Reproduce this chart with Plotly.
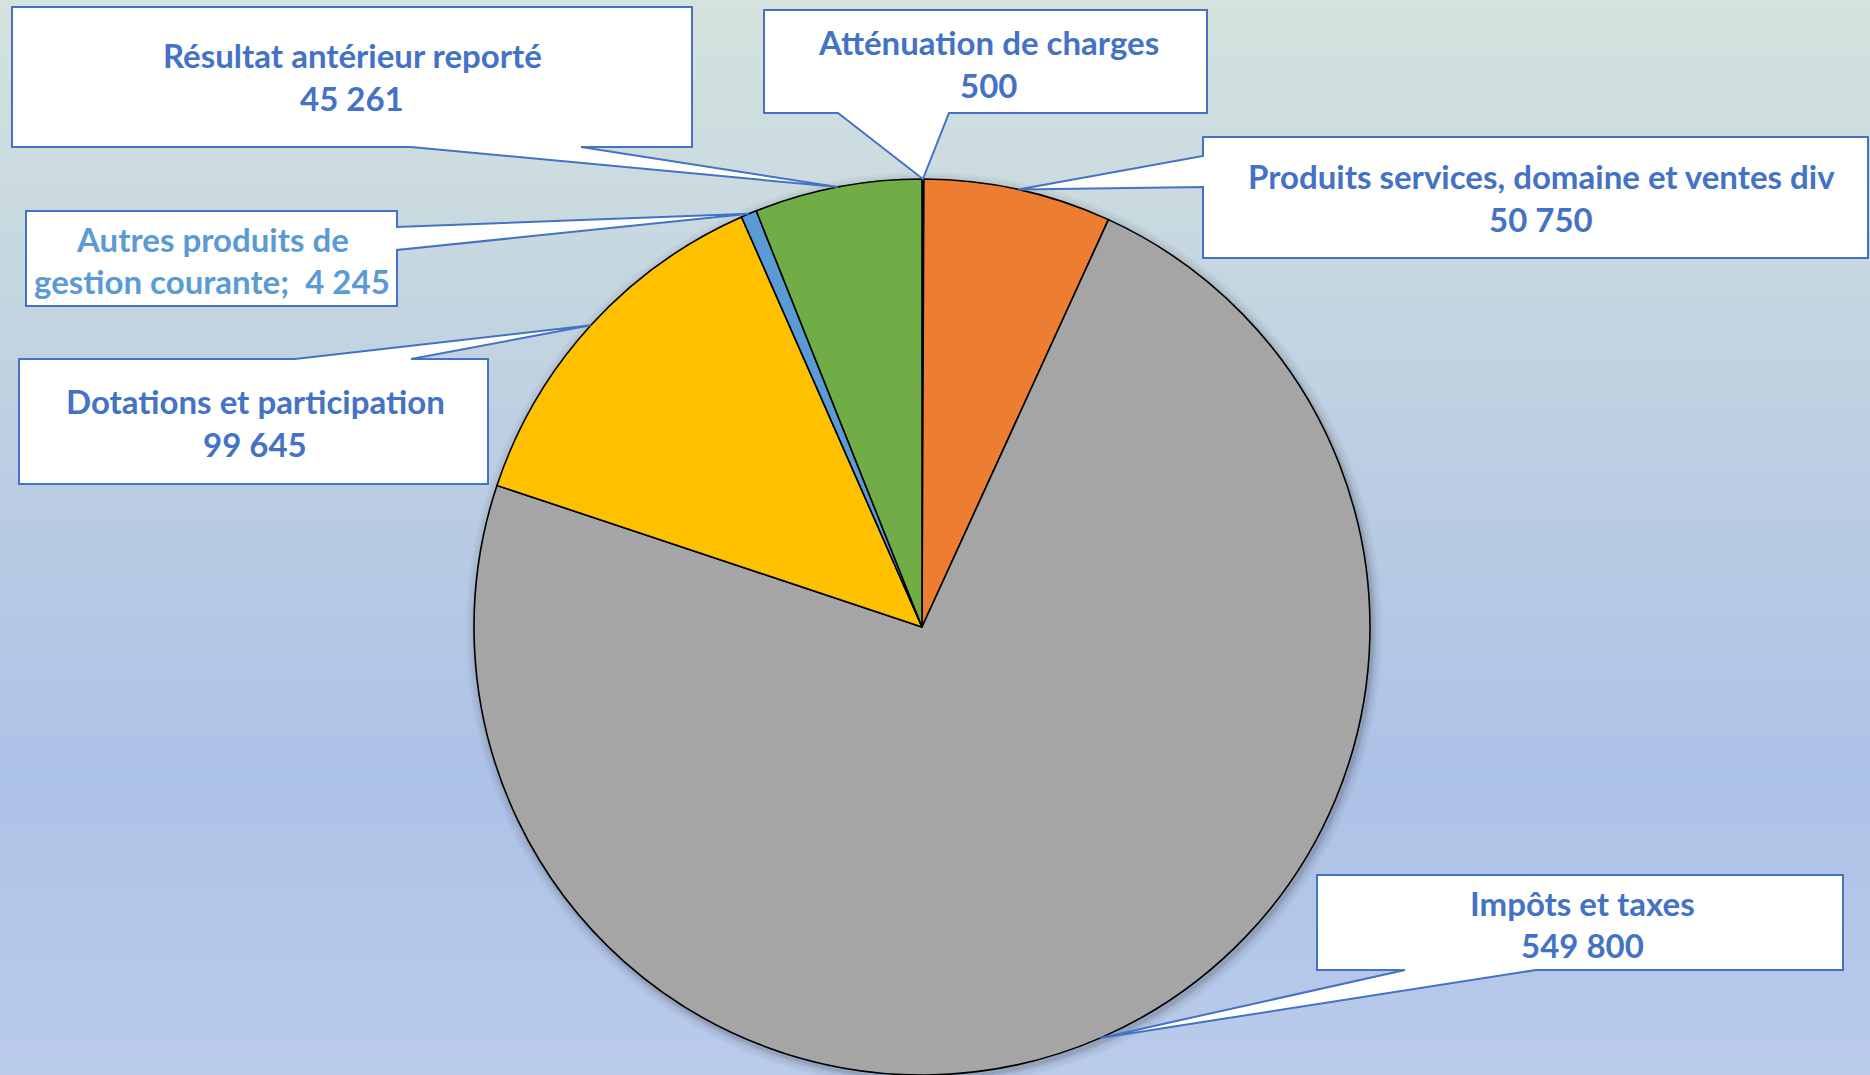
import math
import plotly.graph_objects as go

# ---------------- data ----------------
categories = ["Atténuation de charges",
              "Produits services, domaine et ventes div",
              "Impôts et taxes",
              "Dotations et participation",
              "Autres produits de gestion courante",
              "Résultat antérieur reporté"]
values = [500, 50750, 549800, 99645, 4245, 45261]
slice_colors = ["#4472C4", "#ED7D31", "#A5A5A5", "#FFC000", "#5B9BD5", "#70AD47"]

# label text lines (first line is label; value appended from values)
label_lines = [["Atténuation de charges", "{v}"],
               ["Produits services, domaine et ventes div", "{v}"],
               ["Impôts et taxes", "{v}"],
               ["Dotations et participation", "{v}"],
               ["Autres produits de", "gestion courante;  {v}"],
               ["Résultat antérieur reporté", "{v}"]]
label_colors = ["#4472C4", "#4472C4", "#4472C4", "#4472C4", "#5B9BD5", "#4472C4"]

# ---------------- layout (pixels) ----------------
W, H = 1870, 1075
CX, CY, R = 922, 627, 448

# callout boxes: (left, top, right, bottom), pointer side, pointer base (a, b), text cx, line ys
callouts = [
    ((764, 10, 1207, 113), "bottom", (838, 949), 988, (42, 85)),
    ((1203, 137, 1868, 258), "left", (156, 187), 1541, (176, 219)),
    ((1317, 875, 1843, 970), "bottom", (1405, 1536), 1582, (903, 945)),
    ((19, 359, 488, 484), "top", (295, 411), 255, (401, 444)),
    ((26, 211, 397, 306), "right", (227, 250), 212, (239, 281)),
    ((12, 7, 692, 147), "bottom", (411, 581), 352, (55, 98)),
]


def fmt(v):
    return f"{v:,}".replace(",", " ")


total = sum(values)
tips = []
cum = 0
for v in values:
    mid = (cum + v / 2) / total * 2 * math.pi
    tips.append((CX + R * math.sin(mid), CY - R * math.cos(mid)))
    cum += v

fig = go.Figure()

fig.add_trace(go.Scatter(x=[0, W], y=[0, H], mode="markers",
                         marker=dict(opacity=0), hoverinfo="skip",
                         showlegend=False))

fig.add_trace(go.Pie(
    labels=categories, values=values, sort=False, direction="clockwise",
    rotation=0, textinfo="none", hoverinfo="label+value",
    marker=dict(colors=slice_colors, line=dict(color="#000000", width=1.6)),
    domain=dict(x=[(CX - R) / W, (CX + R) / W], y=[0, 2 * R / H]),
    showlegend=False,
))

shapes = []
# background gradient
stops = [(0.0, (212, 227, 221)), (0.45, (187, 205, 227)),
         (0.72, (173, 194, 231)), (1.0, (186, 203, 234))]


def grad(t):
    for (t0, c0), (t1, c1) in zip(stops[:-1], stops[1:]):
        if t <= t1:
            f = (t - t0) / (t1 - t0)
            return tuple(round(a + (b - a) * f) for a, b in zip(c0, c1))
    return stops[-1][1]


band = 8
for y0 in range(0, H, band):
    c = grad((y0 + band / 2) / H)
    shapes.append(dict(type="rect", xref="x", yref="y", x0=0, x1=W,
                       y0=y0, y1=min(H, y0 + band + 1), layer="below",
                       line=dict(width=0),
                       fillcolor=f"rgb({c[0]},{c[1]},{c[2]})"))
# pie shadow
for d, a in [(10, 0.03), (7, 0.04), (4, 0.06), (2, 0.08)]:
    shapes.append(dict(type="circle", xref="x", yref="y",
                       x0=CX - R - d + 2, x1=CX + R + d + 2,
                       y0=CY - R - d + 3, y1=CY + R + d + 3,
                       layer="below", line=dict(width=0),
                       fillcolor=f"rgba(0,0,0,{a})"))

# callouts
for (box, side, base, tcx, lys), tip in zip(callouts, tips):
    l, t, r, b = box
    tx, ty = tip
    a0, a1 = base
    if side == "bottom":
        pts = [(l, t), (r, t), (r, b), (a1, b), (tx, ty), (a0, b), (l, b)]
    elif side == "top":
        pts = [(l, t), (a0, t), (tx, ty), (a1, t), (r, t), (r, b), (l, b)]
    elif side == "left":
        pts = [(l, t), (r, t), (r, b), (l, b), (l, a1), (tx, ty), (l, a0)]
    else:  # right
        pts = [(l, t), (r, t), (r, a0), (tx, ty), (r, a1), (r, b), (l, b)]
    path = "M " + " L ".join(f"{x:.1f},{y:.1f}" for x, y in pts) + " Z"
    shapes.append(dict(type="path", xref="x", yref="y", path=path,
                       fillcolor="white", line=dict(color="#4472C4", width=2),
                       layer="above"))

annotations = []
for lines, v, col, (box, side, base, tcx, lys) in zip(label_lines, values,
                                                      label_colors, callouts):
    for line, ly in zip(lines, lys):
        annotations.append(dict(
            x=tcx, y=ly, xref="x", yref="y", text=line.format(v=fmt(v)),
            showarrow=False, xanchor="center", yanchor="middle",
            font=dict(family="Lato", size=33, color=col, weight="bold")))

fig.update_layout(
    width=W, height=H, margin=dict(l=0, r=0, t=0, b=0),
    paper_bgcolor="#C4D5E2", plot_bgcolor="rgba(0,0,0,0)",
    xaxis=dict(range=[0, W], visible=False, fixedrange=True),
    yaxis=dict(range=[H, 0], visible=False, fixedrange=True),
    shapes=shapes, annotations=annotations, showlegend=False,
)

fig.write_html("out.html", config={"displayModeBar": False},
               post_script="document.body.style.margin='0';document.body.style.padding='0';")
